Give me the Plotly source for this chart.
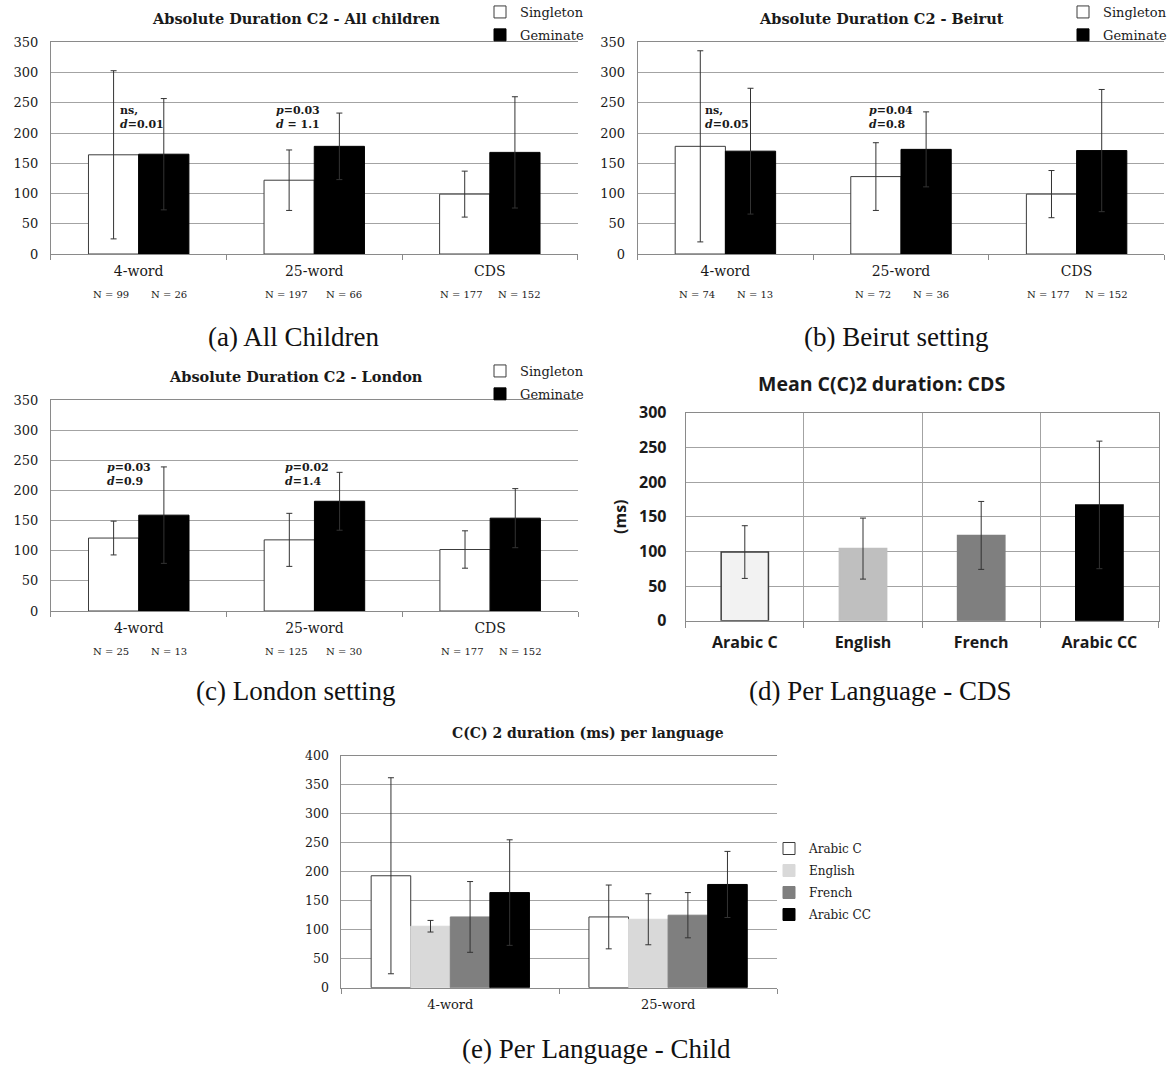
import plotly.graph_objects as go

W, H = 1173, 1068

# ---------------- data ----------------
setting_cats = ["4-word", "25-word", "CDS"]

all_single = [164, 122, 99]
all_single_sd = [139, 50, 38]
all_gem = [165, 178, 168]
all_gem_sd = [92, 55, 92]
all_single_n = [99, 197, 177]
all_gem_n = [26, 66, 152]

beirut_single = [178, 128, 99]
beirut_single_sd = [158, 56, 39]
beirut_gem = [170, 173, 171]
beirut_gem_sd = [104, 62, 101]
beirut_single_n = [74, 72, 177]
beirut_gem_n = [13, 36, 152]

london_single = [121, 118, 102]
london_single_sd = [28, 44, 31]
london_gem = [159, 182, 154]
london_gem_sd = [80, 48, 49]
london_single_n = [25, 125, 177]
london_gem_n = [13, 30, 152]

cds_langs = ["Arabic C", "English", "French", "Arabic CC"]
cds_mean = [99, 104, 123, 167]
cds_sd = [38, 44, 49, 92]

child_cats = ["4-word", "25-word"]
child_arabic_c = [193, 122]
child_arabic_c_sd = [169, 55]
child_english = [106, 118]
child_english_sd = [10, 44]
child_french = [122, 125]
child_french_sd = [61, 39]
child_arabic_cc = [164, 178]
child_arabic_cc_sd = [91, 57]

stats_all = ["ns,<br><i>d</i>=0.01", "<i>p</i>=0.03<br><i>d</i> = 1.1"]
stats_beirut = ["ns,<br><i>d</i>=0.05", "<i>p</i>=0.04<br><i>d</i>=0.8"]
stats_london = ["<i>p</i>=0.03<br><i>d</i>=0.9", "<i>p</i>=0.02<br><i>d</i>=1.4"]

# ---------------- style ----------------
GRID = "#a3a3a3"
AXC = "#8a8a8a"
ERR = "#333333"
TXT = "#1a1a1a"
SERIF = "DejaVu Serif"
SANS = "Open Sans"
CAPF = "Liberation Serif"


def pxx(p):
    return p / W


def pxy(p):
    return 1 - p / H


fig = go.Figure()


def add_bar(xs, ys, sd, name, color, lcolor, xa, ya, width, offset, legend, show):
    fig.add_trace(go.Bar(
        x=xs, y=ys, name=name, width=width, offset=offset,
        marker=dict(color=color, line=dict(color=lcolor, width=1)),
        error_y=dict(type="data", array=sd, visible=True, color=ERR,
                     thickness=1, width=3),
        xaxis=xa, yaxis=ya, legend=legend, showlegend=show,
        legendgroup=name + "_" + legend, hoverinfo="y",
    ))


# panels a, b, c
setting_panels = [
    ("x", "y", all_single, all_single_sd, all_gem, all_gem_sd, "legend", True),
    ("x2", "y2", beirut_single, beirut_single_sd, beirut_gem, beirut_gem_sd, "legend2", True),
    ("x3", "y3", london_single, london_single_sd, london_gem, london_gem_sd, "legend3", True),
]
pos3 = list(range(len(setting_cats)))
BW = 0.286
for xa, ya, s, ssd, g, gsd, lg, sh in setting_panels:
    add_bar(pos3, s, ssd, "Singleton", "#ffffff", "#3c3c3c", xa, ya, BW, -BW, lg, sh)
    add_bar(pos3, g, gsd, "Geminate", "#000000", "#000000", xa, ya, BW, 0.0, lg, sh)

# panel d
pos4 = list(range(len(cds_langs)))
fig.add_trace(go.Bar(
    x=pos4, y=cds_mean, width=0.4, offset=-0.2,
    marker=dict(color=["#f2f2f2", "#bfbfbf", "#7f7f7f", "#000000"],
                line=dict(color=["#3c3c3c", "#bfbfbf", "#7f7f7f", "#000000"], width=1.5)),
    error_y=dict(type="data", array=cds_sd, visible=True, color=ERR, thickness=1, width=3),
    xaxis="x4", yaxis="y4", showlegend=False, hoverinfo="y",
))

# panel e
pos2 = list(range(len(child_cats)))
EW = 0.1817
child_series = [
    ("Arabic C", child_arabic_c, child_arabic_c_sd, "#ffffff", "#3c3c3c"),
    ("English", child_english, child_english_sd, "#d9d9d9", "#d9d9d9"),
    ("French", child_french, child_french_sd, "#7f7f7f", "#7f7f7f"),
    ("Arabic CC", child_arabic_cc, child_arabic_cc_sd, "#000000", "#000000"),
]
for i, (nm, vals, sd, col, lcol) in enumerate(child_series):
    add_bar(pos2, vals, sd, nm, col, lcol, "x5", "y5", EW, -2 * EW + i * EW, "legend4", True)


# ---------------- axes ----------------
def xcfg(x0, x1, anchor, labels, font, standoff, grid=False, ticklen=5):
    n = len(labels)
    return dict(
        domain=[pxx(x0), pxx(x1)], anchor=anchor, range=[-0.5, n - 0.5],
        tickmode="array", tickvals=list(range(n)), ticktext=labels, ticks="",
        showline=True, linecolor=AXC, linewidth=1, mirror=True,
        showgrid=False, zeroline=False, tickfont=font, ticklabelstandoff=standoff,
        minor=dict(tickvals=[i - 0.5 for i in range(n + 1)], ticks="outside",
                   ticklen=ticklen, tickcolor=AXC, tickwidth=1,
                   showgrid=grid, gridcolor=GRID, gridwidth=1),
        fixedrange=True,
    )


def ycfg(y0, y1, anchor, ymax, dtick, font, standoff, mirror=False):
    return dict(
        domain=[pxy(y0), pxy(y1)], anchor=anchor, range=[0, ymax],
        tickmode="linear", tick0=0, dtick=dtick, ticks="",
        showgrid=True, gridcolor=GRID, gridwidth=1,
        showline=True, linecolor=AXC, linewidth=1, mirror=mirror,
        zeroline=False, tickfont=font, ticklabelstandoff=standoff, fixedrange=True,
    )


tick_serif = dict(family=SERIF, size=13, color=TXT)
xlab_serif = dict(family=SERIF, size=14, color=TXT)
sans_bold = dict(family=SANS, size=16, color=TXT, weight="bold")

fig.update_layout(
    width=W, height=H, margin=dict(l=0, r=0, t=0, b=0, autoexpand=False),
    paper_bgcolor="white", plot_bgcolor="white", barmode="overlay",
    showlegend=True,
    xaxis=xcfg(50.9, 577.6, "y", setting_cats, xlab_serif, 4),
    yaxis=ycfg(254, 42.3, "x", 350, 50, tick_serif, 9),
    xaxis2=xcfg(637.6, 1164.4, "y2", setting_cats, xlab_serif, 4),
    yaxis2=ycfg(254, 42.3, "x2", 350, 50, tick_serif, 9),
    xaxis3=xcfg(50.9, 578, "y3", setting_cats, xlab_serif, 4),
    yaxis3=ycfg(611, 400, "x3", 350, 50, tick_serif, 9),
    xaxis4=xcfg(685.7, 1158.5, "y4", cds_langs, sans_bold, 7, grid=True, ticklen=6),
    yaxis4=ycfg(620.7, 412.7, "x4", 300, 50, sans_bold, 15, mirror=True),
    xaxis5=xcfg(341.4, 777, "y5", child_cats, dict(family=SERIF, size=13, color=TXT), 5),
    yaxis5=ycfg(987.7, 755.7, "x5", 400, 50, dict(family=SERIF, size=12.5, color=TXT), 9),
)

leg_common = dict(xanchor="left", yanchor="top", bgcolor="rgba(0,0,0,0)",
                  borderwidth=0, tracegroupgap=3, itemclick=False, itemdoubleclick=False)
fig.update_layout(
    legend=dict(x=pxx(480), y=pxy(-3), font=dict(family=SERIF, size=13, color=TXT), **leg_common),
    legend2=dict(x=pxx(1063), y=pxy(-3), font=dict(family=SERIF, size=13, color=TXT), **leg_common),
    legend3=dict(x=pxx(480), y=pxy(356), font=dict(family=SERIF, size=13, color=TXT), **leg_common),
    legend4=dict(x=pxx(769), y=pxy(834), font=dict(family=SERIF, size=12, color=TXT), **leg_common),
)

ann = []


def title(text, cx, cy, font):
    ann.append(dict(text=text, x=pxx(cx), y=pxy(cy), xref="paper", yref="paper",
                    xanchor="center", yanchor="middle", showarrow=False, font=font))


tfont = dict(family=SERIF, size=14.5, color=TXT, weight="bold")
title("Absolute Duration C2 - All children", 296, 18, tfont)
title("Absolute Duration C2 - Beirut", 882, 18, tfont)
title("Absolute Duration C2 - London", 296, 377, tfont)
title("Mean C(C)2 duration: CDS", 882, 383, dict(family=SANS, size=19.5, color=TXT, weight="bold"))
title("C(C) 2 duration (ms) per language", 588, 733, dict(family=SERIF, size=14, color=TXT, weight="bold"))

capfont = dict(family=CAPF, size=27, color="#111111")
title("(a) All Children", 293, 337, capfont)
title("(b) Beirut setting", 896, 337, capfont)
title("(c) London setting", 295, 691, capfont)
title("(d) Per Language - CDS", 880, 691, capfont)
title("(e) Per Language - Child", 596, 1049, capfont)

# y-axis title of panel d
ann.append(dict(text="(ms)", x=pxx(620), y=pxy(517), xref="paper", yref="paper",
                textangle=-90, showarrow=False, xanchor="center", yanchor="middle",
                font=sans_bold))

# N labels
nfont = dict(family=SERIF, size=10, color=TXT)
for xa, sn, gn, ny in [("x", all_single_n, all_gem_n, 294),
                       ("x2", beirut_single_n, beirut_gem_n, 294),
                       ("x3", london_single_n, london_gem_n, 651)]:
    for i in range(len(setting_cats)):
        ann.append(dict(text=f"N = {sn[i]}", x=i - 0.16, y=pxy(ny), xref=xa, yref="paper",
                        showarrow=False, xanchor="center", yanchor="middle", font=nfont))
        ann.append(dict(text=f"N = {gn[i]}", x=i + 0.17, y=pxy(ny), xref=xa, yref="paper",
                        showarrow=False, xanchor="center", yanchor="middle", font=nfont))

# significance labels
sfont = dict(family=SERIF, size=11, color=TXT)
for xa, ya, texts, xs in [("x", "y", stats_all, [-0.12, 0.768]),
                          ("x2", "y2", stats_beirut, [-0.13, 0.809]),
                          ("x3", "y3", stats_london, [-0.194, 0.823])]:
    for t, xv in zip(texts, xs):
        ann.append(dict(text=f"<b>{t}</b>", x=xv, y=226, xref=xa, yref=ya, showarrow=False,
                        xanchor="left", yanchor="middle", align="left", font=sfont))

fig.update_layout(annotations=ann)

fig.write_html(
    "out.html",
    config={"displayModeBar": False},
    post_script="document.body.style.margin='0';document.body.style.overflow='hidden';",
)
